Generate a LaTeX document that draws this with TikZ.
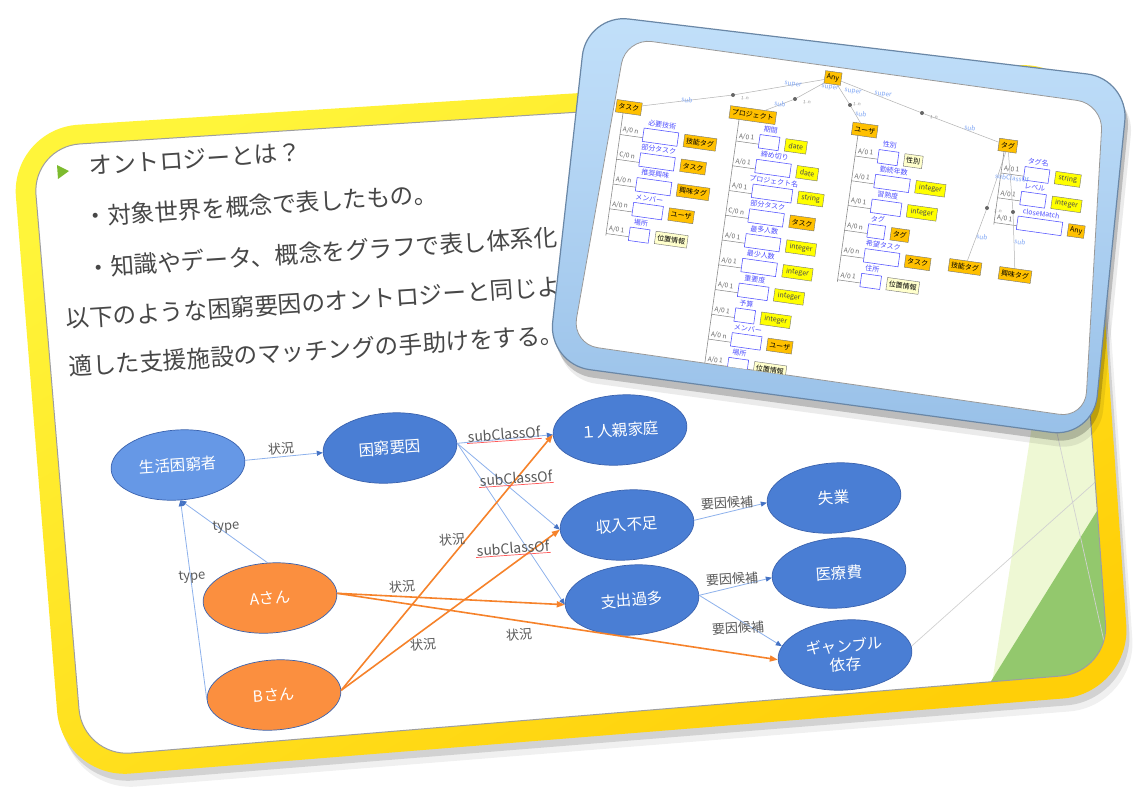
\documentclass[tikz,border=0pt]{standalone}
\usepackage{fontspec}
\setmainfont{Noto Sans CJK JP}
\usetikzlibrary{shapes.geometric,arrows.meta}
\definecolor{txtgray}{HTML}{474747}
\definecolor{lblgray}{HTML}{595959}
\definecolor{nodeblue}{HTML}{4A7ED4}
\definecolor{nodeblueL}{HTML}{6698E6}
\definecolor{nodeedge}{HTML}{3A62AE}
\definecolor{orng}{HTML}{FB8F3F}
\definecolor{orline}{HTML}{F6822A}
\definecolor{bline}{HTML}{8DB1EC}
\definecolor{btip}{HTML}{4472C4}
\definecolor{yel1}{HTML}{FFF53A}
\definecolor{yel2}{HTML}{FFCF08}
\definecolor{frblue1}{HTML}{C2E0FA}
\definecolor{frblue2}{HTML}{98C0E8}
\definecolor{frdark}{HTML}{6A87A6}
\definecolor{clsorange}{HTML}{FFC000}
\definecolor{dtyellow}{HTML}{FFFF00}
\definecolor{lightyel}{HTML}{FFFFCC}
\definecolor{propblue}{HTML}{4F4FFF}
\definecolor{supblue}{HTML}{7FA6F5}
\definecolor{lgreen}{HTML}{EEF8D4}
\definecolor{dgreen}{HTML}{93C86D}
\definecolor{bgreen}{HTML}{7DBB2E}
\newcommand\irow[7]{%
  \draw[rowline] (0,#2) -- (23,#2);
  \node[card] (#1c) at (10,#2-5) {#3};
  \node[prop, minimum width=#5] (#1b) at ({23+#5/2},#2-3) {};
  \node[plbl] (#1l) at ({23+#5/2},#2-15.5) {#4};
  \node[#7, anchor=west] (#1t) at ({29+#5},#2-3) {#6};
}
\begin{document}
\begin{tikzpicture}[x=1pt,y=-1pt,
  stxt/.style={font=\fontsize{23.6}{24}\selectfont, text=txtgray, rotate=3.8, inner sep=0, anchor=west},
  ell/.style={ellipse, minimum width=134, minimum height=70, inner sep=0, draw=nodeedge, line width=0.7, text=white, font=\fontsize{15.5}{19}\selectfont, rotate=4, fill=nodeblue, align=center},
  pers/.style={ell, fill=orng},
  bedge/.style={draw=bline, line width=0.8, -{Triangle[length=6,width=5,color=btip]}},
  oedge/.style={draw=orline, line width=1.6, -{Triangle[length=8,width=6]}},
  elbl/.style={font=\fontsize{13}{13}\selectfont, text=lblgray, rotate=4, inner sep=1},
  sclbl/.style={elbl, font=\fontsize{14}{14}\selectfont},
  cls/.style={draw=black!55, line width=0.4, fill=clsorange, font=\fontsize{7}{7.5}\selectfont, text=black, inner xsep=2.2, inner ysep=0, minimum height=12.5},
  dtype/.style={cls, fill=dtyellow, inner xsep=3.5, text=black!70},
  loc/.style={cls, fill=lightyel},
  prop/.style={draw=propblue, line width=0.55, fill=white, minimum height=13.5, inner sep=0},
  plbl/.style={font=\fontsize{7}{7.5}\selectfont, text=propblue, inner sep=0},
  card/.style={font=\fontsize{6.5}{6.5}\selectfont, text=black!60, inner sep=0},
  rowline/.style={draw=black!50, line width=0.5},
  trunk/.style={draw=black!45, line width=0.6},
  tline/.style={draw=black!30, line width=0.5},
  tdot/.style={circle, fill=black!60, inner sep=0, minimum size=4},
  tlbl/.style={font=\fontsize{6.5}{6.5}\selectfont, text=supblue, inner sep=0, rotate=-8},
  mlbl/.style={font=\fontsize{4.5}{5}\selectfont, text=black!45, inner sep=0, rotate=-8}
]
\useasboundingbox (0,0) rectangle (1142,787);
\fill[white] (0,0) rectangle (1142,787);

% ---------- slide frame ----------
\begin{scope}[shift={(3,7)}]
\fill[black, opacity=0.12, rounded corners=68] (548.75,95) -- (1087,61) -- (1131,693) -- (62.5,779) -- (10.5,129) -- cycle;
\end{scope}
\begin{scope}[shift={(6,13)}]
\fill[black, opacity=0.06, rounded corners=68] (548.75,95) -- (1087,61) -- (1131,693) -- (62.5,779) -- (10.5,129) -- cycle;
\end{scope}
\shade[top color=yel1, bottom color=yel2, shading angle=30, rounded corners=68] (548.75,95) -- (1087,61) -- (1131,693) -- (62.5,779) -- (10.5,129) -- cycle;
\fill[white, rounded corners=48] (549,114) -- (1066,81) -- (1109,672) -- (83,757) -- (32,147) -- cycle;
\begin{scope}
\clip[rounded corners=48] (549,114) -- (1066,81) -- (1109,672) -- (83,757) -- (32,147) -- cycle;
\fill[lgreen] (1036,400) -- (1150,400) -- (1150,780) -- (977,780) -- cycle;
\fill[dgreen] (960,731) -- (1110,490) -- (1150,490) -- (1150,780) -- (960,780) -- cycle;
\draw[black!18, line width=0.7] (905,652) -- (1120,460);
\draw[black!18, line width=0.7] (1045,380) -- (1115,690);
\end{scope}
\draw[black!38, line width=1, rounded corners=48] (549,114) -- (1066,81) -- (1109,672) -- (83,757) -- (32,147) -- cycle;

% ---------- slide text ----------
\fill[bgreen] (57,165) -- (69,171) -- (58,179) -- cycle;
\node[stxt] (t1) at (89,166) {オントロジーとは？};
\node[stxt] (t2) at (84,217) {・対象世界を概念で表したもの。};
\node[stxt] (t3) at (87,268) {・知識やデータ、概念をグラフで表し体系化};
\node[stxt] (t4) at (66,319) {以下のような困窮要因のオントロジーと同じよ};
\node[stxt] (t5) at (69,367) {適した支援施設のマッチングの手助けをする。};

% ---------- graph ----------
\node[ell, fill=nodeblueL] (life) at (178,465) {生活困窮者};
\node[ell] (cause) at (390,448) {困窮要因};
\node[ell] (single) at (620,430) {１人親家庭};
\node[ell] (income) at (627,525) {収入不足};
\node[ell] (expense) at (632,600) {支出過多};
\node[ell] (unemp) at (834,498) {失業};
\node[ell] (medical) at (839,573) {医療費};
\node[ell] (gamble) at (845,655) {ギャンブル\\依存};
\node[pers] (pA) at (270,598) {Aさん};
\node[pers] (pB) at (274,695) {Bさん};

\draw[bedge] (life.east) -- (cause.west);
\draw[bedge] (cause.east) -- (single.west);
\draw[bedge] (cause.east) -- (income.west);
\draw[bedge] (cause.east) -- (expense.west);
\draw[bedge] (income.east) -- (unemp.west);
\draw[bedge] (expense.east) -- (medical.west);
\draw[bedge] (expense.east) -- (gamble.168);
\draw[bedge] (pA.north) -- (life.south);
\draw[bedge] (pB.west) -- (life.south);
\draw[oedge] (pA.east) -- (expense.west);
\draw[oedge] (pA.east) -- (gamble.west);
\draw[oedge] (pB.east) -- (single.west);
\draw[oedge] (pB.east) -- (income.west);

\node[elbl] (l1) at (281,449) {状況};
\node[sclbl] (sc1) at (504,434) {subClassOf};
\node[sclbl] (sc2) at (516,478) {subClassOf};
\node[sclbl] (sc3) at (513,548) {subClassOf};
\draw[red!65, line width=0.7] (sc1.south west) -- (sc1.south east);
\draw[red!65, line width=0.7] (sc2.south west) -- (sc2.south east);
\draw[red!65, line width=0.7] (sc3.south west) -- (sc3.south east);
\node[elbl] (l2) at (727,503) {要因候補};
\node[elbl] (l3) at (732,579) {要因候補};
\node[elbl] (l4) at (738,628) {要因候補};
\node[elbl] (l5) at (226,527) {type};
\node[elbl] (l6) at (192,577) {type};
\node[elbl] (l7) at (402,587) {状況};
\node[elbl] (l8) at (519,635) {状況};
\node[elbl] (l9) at (452,540) {状況};
\node[elbl] (l10) at (423,645) {状況};

% ---------- inset frame ----------
\begin{scope}[shift={(3,8)}]
\fill[black, opacity=0.2, rounded corners=42] (858,46.5) -- (1129,79) -- (1093,438) -- (548,364) -- (587,14) -- cycle;
\end{scope}
\begin{scope}[shift={(6,14)}]
\fill[black, opacity=0.08, rounded corners=42] (858,46.5) -- (1129,79) -- (1093,438) -- (548,364) -- (587,14) -- cycle;
\end{scope}
\shade[top color=frblue1, bottom color=frblue2, rounded corners=42] (858,46.5) -- (1129,79) -- (1093,438) -- (548,364) -- (587,14) -- cycle;
\draw[frdark, line width=1.2, rounded corners=42] (858,46.5) -- (1129,79) -- (1093,438) -- (548,364) -- (587,14) -- cycle;
\filldraw[fill=white, draw=black!40, line width=0.8, rounded corners=26] (864.5,71) -- (1103,104) -- (1085,418) -- (572,344) -- (626,38) -- cycle;

\begin{scope}
\clip[rounded corners=26] (864.5,71) -- (1103,104) -- (1085,418) -- (572,344) -- (626,38) -- cycle;

% column タスク
\begin{scope}[shift={(620,134.5)}, rotate=-8, transform shape]
\node[cls] (hTask) at (5,-28) {タスク};
\coordinate (kTa0) at (0,-22); \coordinate (kTa1) at (0,102);
\draw[trunk] (kTa0) -- (kTa1);
\irow{ta1}{0}{A/0 n}{必要技術}{35}{技能タグ}{cls}
\irow{ta2}{25}{C/0 n}{部分タスク}{35}{タスク}{cls}
\irow{ta3}{50}{A/0 n}{推奨興味}{35}{興味タグ}{cls}
\irow{ta4}{75}{A/0 n}{メンバー}{30}{ユーザ}{cls}
\irow{ta5}{100}{A/0 1}{場所}{20}{位置情報}{loc}
\end{scope}

% column プロジェクト
\begin{scope}[shift={(736,141)}, rotate=-8, transform shape]
\node[cls] (hProj) at (13,-28) {プロジェクト};
\coordinate (kPr0) at (0,-22); \coordinate (kPr1) at (0,260);
\draw[trunk] (kPr0) -- (kPr1);
\irow{pr1}{0}{A/0 1}{期間}{20}{date}{dtype}
\irow{pr2}{25}{A/0 1}{締め切り}{35}{date}{dtype}
\irow{pr3}{50}{A/0 1}{プロジェクト名}{40}{string}{dtype}
\irow{pr4}{75}{C/0 n}{部分タスク}{35}{タスク}{cls}
\irow{pr5}{100}{A/0 1}{最多人数}{35}{integer}{dtype}
\irow{pr6}{125}{A/0 1}{最少人数}{35}{integer}{dtype}
\irow{pr7}{150}{A/0 1}{重要度}{30}{integer}{dtype}
\irow{pr8}{175}{A/0 1}{予算}{20}{integer}{dtype}
\irow{pr9}{200}{A/0 n}{メンバー}{30}{ユーザ}{cls}
\irow{pr10}{225}{A/0 1}{場所}{20}{位置情報}{loc}
\end{scope}

% column ユーザ
\begin{scope}[shift={(855,156)}, rotate=-8, transform shape]
\node[cls] (hUser) at (6,-27) {ユーザ};
\coordinate (kUs0) at (0,-21); \coordinate (kUs1) at (0,127);
\draw[trunk] (kUs0) -- (kUs1);
\irow{us1}{0}{A/0 1}{性別}{20}{性別}{loc}
\irow{us2}{25}{A/0 1}{勤続年数}{35}{integer}{dtype}
\irow{us3}{50}{A/0 1}{習熟度}{30}{integer}{dtype}
\irow{us4}{75}{A/0 n}{タグ}{17}{タグ}{cls}
\irow{us5}{100}{A/0 n}{希望タスク}{35}{タスク}{cls}
\irow{us6}{125}{A/0 1}{住所}{20}{位置情報}{loc}
\end{scope}

% column タグ
\begin{scope}[shift={(1001,173)}, rotate=-8, transform shape]
\node[cls] (hTag) at (3,-28) {タグ};
\coordinate (kTg0) at (0,-22); \coordinate (kTg1) at (0,52);
\draw[trunk] (kTg0) -- (kTg1);
\irow{tg1}{0}{A/0 1}{タグ名}{25}{string}{dtype}
\irow{tg2}{25}{A/0 1}{レベル}{25}{integer}{dtype}
\irow{tg3}{50}{A/0 1}{closeMatch}{45}{Any}{cls}
\end{scope}

% top of the tree
\node[cls, rotate=-8] (nAny) at (833,78) {Any};
\node[cls, rotate=-8] (nSkill) at (965,267) {技能タグ};
\node[cls, rotate=-8] (nIntr) at (1015,275) {興味タグ};
\node[tdot] (d1) at (733,95) {};
\node[tdot] (d2) at (795,99) {};
\node[tdot] (d3) at (850,105) {};
\node[tdot] (d4) at (922,113) {};
\node[tdot] (d5) at (987,208) {};
\node[tdot] (d6) at (1013,212) {};
\draw[tline] (nAny) -- (d1) -- (hTask);
\draw[tline] (nAny) -- (d2) -- (hProj);
\draw[tline] (nAny) -- (d3) -- (hUser);
\draw[tline] (nAny) -- (d4) -- (hTag);
\draw[tline] (hTag) -- (d5) -- (nSkill);
\draw[tline] (hTag) -- (d6) -- (nIntr);
\node[tlbl] (s1) at (793,85) {super};
\node[tlbl] (s2) at (830,88) {super};
\node[tlbl] (s3) at (853,92) {super};
\node[tlbl] (s4) at (883,95) {super};
\node[tlbl] (u1) at (687,100) {sub};
\node[tlbl] (u2) at (780,104) {sub};
\node[tlbl] (u3) at (861,114) {sub};
\node[tlbl] (u4) at (970,128) {sub};
\node[tlbl] (u5) at (982,237) {sub};
\node[tlbl] (u6) at (1020,242) {sub};
\node[tlbl] (u7) at (1012,178) {subClassOf};
\node[mlbl] (m1) at (745,98) {1..n};
\node[mlbl] (m2) at (807,102) {1..n};
\node[mlbl] (m3) at (857,104) {1..n};
\node[mlbl] (m4) at (934,117) {1..n};
\node[mlbl] (m5) at (998,211) {1..n};
\end{scope}
\end{tikzpicture}
\end{document}
